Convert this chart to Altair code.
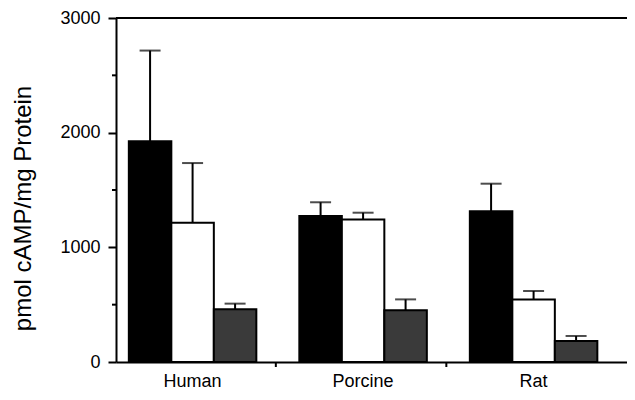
import altair as alt
import pandas as pd

groups = ["Human", "Porcine", "Rat"]
series = ["Series 1", "Series 2", "Series 3"]
series1_vals = [1925, 1274, 1314]
series2_vals = [1214, 1242, 546]
series3_vals = [461, 452, 184]
series1_err = [791, 119, 241]
series2_err = [521, 60, 73]
series3_err = [48, 94, 43]
bar_colors = ["#000000", "#ffffff", "#3a3a3a"]
major_ticks = [0, 1000, 2000, 3000]
minor_ticks = [500, 1500, 2500]
separators = ["Porcine", "Rat"]

rows = []
for s, vals, errs in [(series[0], series1_vals, series1_err),
                      (series[1], series2_vals, series2_err),
                      (series[2], series3_vals, series3_err)]:
    for g, v, e in zip(groups, vals, errs):
        rows.append({"g": g, "s": s, "value": v, "upper": v + e})
df = pd.DataFrame(rows)

W, H = 511, 344
FONT = "Liberation Sans"

xscale = alt.Scale(domain=groups, paddingInner=0.2522, paddingOuter=0.1246, align=0.302)
xoff = alt.XOffset("s:N", scale=alt.Scale(domain=series, paddingInner=0, paddingOuter=0))
yscale = alt.Scale(domain=[0, 3000], nice=False, zero=True)

xaxis = alt.Axis(title=None, ticks=False, labelAngle=0, labelFontSize=18,
                 labelFont=FONT, labelColor="black", labelPadding=10,
                 domainColor="black", domainWidth=2)
yaxis = alt.Axis(title="pmol cAMP/mg Protein", values=major_ticks, format="d", grid=False,
                 tickSize=8, tickWidth=2, tickColor="black",
                 domainColor="black", domainWidth=2,
                 labelFontSize=18, labelFont=FONT, labelColor="black",
                 labelPadding=8,
                 titleFontSize=24, titleFont=FONT, titleFontWeight="normal",
                 titleColor="black", titleAngle=-90, titleAlign="center",
                 titleX=-81, titleY=190)

bars = alt.Chart(df).mark_bar(stroke="black", strokeWidth=2).encode(
    x=alt.X("g:N", scale=xscale, sort=groups, axis=xaxis),
    xOffset=xoff,
    y=alt.Y("value:Q", scale=yscale, axis=yaxis),
    fill=alt.Fill("s:N", scale=alt.Scale(domain=series, range=bar_colors), legend=None),
)

err_lines = alt.Chart(df).mark_rule(color="black", strokeWidth=2).encode(
    x=alt.X("g:N", scale=xscale, sort=groups, axis=xaxis),
    xOffset=xoff,
    y=alt.Y("value:Q", scale=yscale, axis=yaxis),
    y2="upper:Q",
)

caps = alt.Chart(df).mark_tick(color="black", thickness=2, size=21).encode(
    x=alt.X("g:N", scale=xscale, sort=groups, axis=xaxis),
    xOffset=xoff,
    y=alt.Y("upper:Q", scale=yscale, axis=yaxis),
)

top_line = alt.Chart(pd.DataFrame({"v": [3000]})).mark_rule(color="black", strokeWidth=2).encode(
    y=alt.Y("v:Q", scale=yscale, axis=yaxis),
    x=alt.value(0),
    x2=alt.value(W),
)

minor = alt.Chart(pd.DataFrame({"v": minor_ticks})).mark_rule(color="black", strokeWidth=2).encode(
    y=alt.Y("v:Q", scale=yscale, axis=yaxis),
    x=alt.value(-4),
    x2=alt.value(0),
)

seps = alt.Chart(pd.DataFrame({"g": separators})).mark_rule(
    color="black", strokeWidth=2, xOffset=-23.5
).encode(
    x=alt.X("g:N", scale=xscale, sort=groups, axis=xaxis, bandPosition=0),
    y=alt.value(H),
    y2=alt.value(H + 5),
)

chart = alt.layer(bars, err_lines, caps, top_line, minor, seps).properties(
    width=W, height=H,
    autosize="none",
    padding={"left": 108, "top": 10, "right": 0, "bottom": 30},
    background="white",
).configure_view(strokeWidth=0)

chart.save("out.html", embed_options={"renderer": "svg", "actions": False})
